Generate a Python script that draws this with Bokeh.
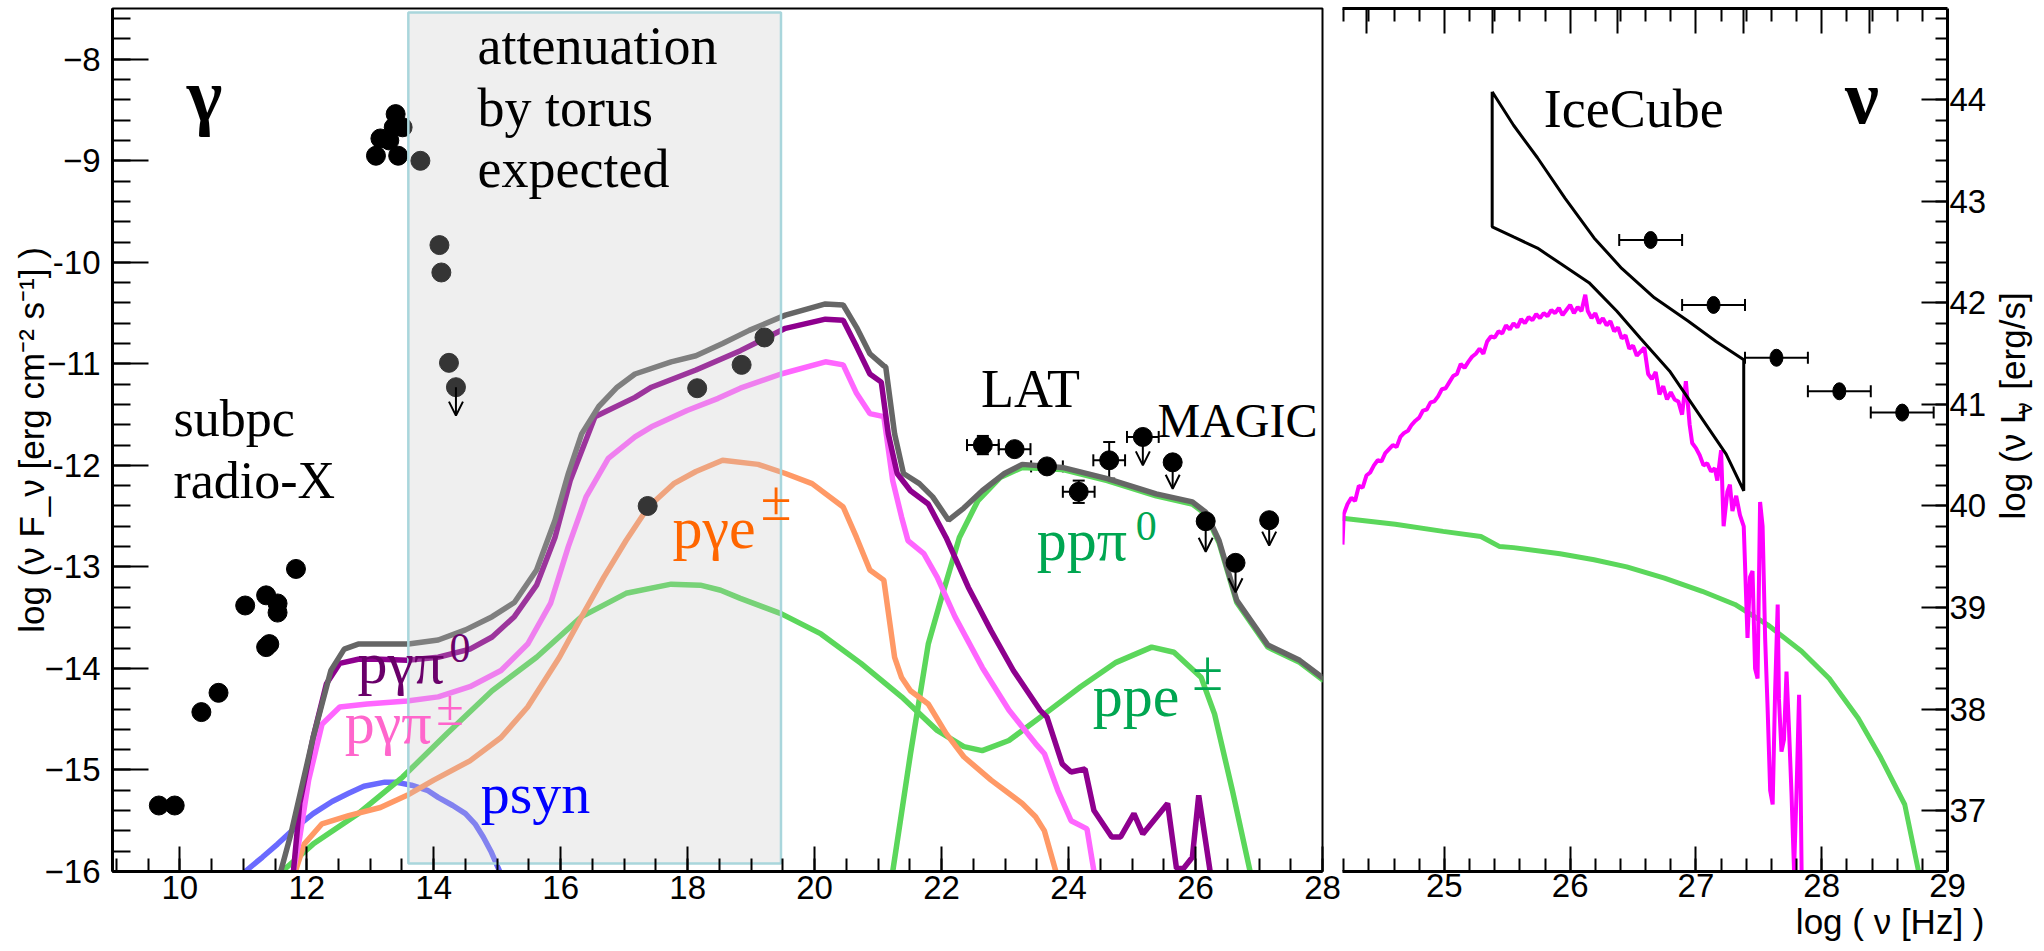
import math
from bokeh.plotting import figure
from bokeh.layouts import row
from bokeh.models import (Range1d, LinearAxis, SingleIntervalTicker, FixedTicker, Title,
                          Label, Arrow, OpenHead, Whisker, TeeHead, ColumnDataSource)
from bokeh.embed import file_html
from bokeh.resources import INLINE

SERIF = "Liberation Serif"
SANS = "Liberation Sans"

# ---------------- gamma-ray panel: model curves (log nu, log nuFnu) ----------------
total_x = [11.59, 11.75, 12.10, 12.38, 12.59, 12.81, 13.16, 13.60, 14.07, 14.50, 14.92, 15.27,
           15.62, 15.91, 16.12, 16.33, 16.60, 16.89, 17.17, 17.74, 18.13, 18.55, 18.97, 19.54,
           20.17, 20.45, 20.66, 20.87, 21.09, 21.12, 21.26, 21.40, 21.65, 21.86, 22.11, 22.35,
           22.64, 22.99, 23.27, 23.90, 24.61, 25.38, 25.95, 26.16, 26.37, 26.65, 27.14, 27.64, 28.02]
total_y = [-16.0, -15.63, -14.68, -14.02, -13.81, -13.76, -13.76, -13.76, -13.72, -13.62, -13.49, -13.35,
           -13.03, -12.54, -12.08, -11.69, -11.42, -11.23, -11.10, -10.98, -10.92, -10.80, -10.67, -10.52,
           -10.41, -10.42, -10.64, -10.90, -11.02, -11.03, -11.69, -12.08, -12.18, -12.31, -12.54, -12.42,
           -12.25, -12.08, -11.99, -12.02, -12.13, -12.28, -12.36, -12.46, -12.74, -13.33, -13.77, -13.92, -14.10]

pgpi0_x = [11.79, 11.89, 12.10, 12.31, 12.52, 12.81, 13.16, 13.58, 14.07, 14.57, 14.92, 15.27,
           15.62, 15.91, 16.15, 16.54, 17.17, 17.43, 18.13, 18.83, 19.54, 20.17, 20.45, 20.66,
           20.87, 21.05, 21.16, 21.30, 21.51, 21.79, 22.07, 22.42, 22.78, 23.13, 23.55, 23.66,
           23.90, 24.04, 24.26, 24.40, 24.68, 24.82, 25.03, 25.17, 25.56, 25.70, 25.81, 25.95, 26.05, 26.23]
pgpi0_y = [-16.0, -15.33, -14.68, -14.15, -13.95, -13.91, -13.91, -13.92, -13.89, -13.81, -13.69, -13.49,
           -13.18, -12.71, -12.15, -11.52, -11.33, -11.23, -11.06, -10.87, -10.65, -10.56, -10.57, -10.83,
           -11.10, -11.18, -11.69, -12.08, -12.25, -12.38, -12.71, -13.20, -13.63, -14.02, -14.41, -14.48,
           -14.94, -15.02, -14.99, -15.40, -15.66, -15.66, -15.43, -15.63, -15.33, -15.97, -15.97, -15.86, -15.25, -16.0]

pgpipm_x = [11.79, 11.89, 12.03, 12.24, 12.52, 12.95, 13.58, 14.07, 14.57, 15.06, 15.48, 15.84,
            16.12, 16.40, 16.75, 17.17, 17.43, 17.99, 18.48, 18.83, 19.47, 20.17, 20.45, 20.66,
            20.87, 21.09, 21.23, 21.37, 21.47, 21.72, 21.93, 22.21, 22.64, 23.06, 23.48, 23.62,
            23.83, 24.04, 24.29, 24.40]
pgpipm_y = [-16.0, -15.66, -15.10, -14.55, -14.38, -14.35, -14.32, -14.28, -14.18, -14.02, -13.76, -13.36,
            -12.80, -12.31, -11.93, -11.72, -11.62, -11.46, -11.34, -11.24, -11.10, -10.98, -11.01, -11.29,
            -11.49, -11.52, -12.15, -12.51, -12.74, -12.87, -13.10, -13.49, -13.99, -14.41, -14.74, -14.84,
            -15.20, -15.50, -15.58, -16.0]

pge_x = [11.82, 11.96, 12.24, 12.66, 13.16, 13.58, 14.00, 14.57, 15.06, 15.48, 15.98, 16.33,
         16.68, 17.03, 17.38, 17.78, 18.13, 18.55, 19.11, 19.54, 19.96, 20.45, 20.66, 20.87,
         21.09, 21.26, 21.37, 21.51, 21.79, 22.07, 22.35, 22.78, 23.27, 23.48, 23.62, 23.80]
pge_y = [-16.0, -15.73, -15.53, -15.45, -15.37, -15.25, -15.10, -14.91, -14.68, -14.38, -13.89, -13.49,
         -13.10, -12.74, -12.41, -12.18, -12.06, -11.95, -11.99, -12.08, -12.18, -12.41, -12.71, -13.03,
         -13.13, -13.89, -14.09, -14.22, -14.35, -14.64, -14.87, -15.10, -15.33, -15.46, -15.60, -16.0]

ppe_x = [11.61, 12.10, 12.81, 13.51, 14.21, 14.92, 15.62, 16.33, 17.03, 17.74, 18.20, 18.52,
         18.83, 19.47, 20.10, 20.73, 21.37, 21.93, 22.35, 22.64, 23.06, 23.62, 24.19, 24.75,
         25.31, 25.66, 26.09, 26.30, 26.58, 26.86]
ppe_y = [-16.0, -15.73, -15.43, -15.07, -14.64, -14.22, -13.89, -13.49, -13.26, -13.17, -13.18, -13.23,
         -13.31, -13.46, -13.66, -13.95, -14.28, -14.61, -14.77, -14.81, -14.71, -14.45, -14.18, -13.94,
         -13.79, -13.84, -14.09, -14.45, -15.20, -16.0]

pppi0_x = [21.23, 21.51, 21.79, 22.00, 22.28, 22.57, 22.92, 23.27, 23.90, 24.61, 25.38, 25.95,
           26.16, 26.37, 26.65, 27.14, 27.64, 28.02]
pppi0_y = [-16.0, -14.84, -13.76, -13.30, -12.71, -12.35, -12.12, -12.02, -12.04, -12.15, -12.30, -12.38,
           -12.48, -12.76, -13.35, -13.79, -13.94, -14.12]

psyn_x = [11.03, 11.30, 11.54, 11.80, 12.10, 12.40, 12.66, 12.90, 13.23, 13.40, 13.65, 13.90,
          14.07, 14.30, 14.50, 14.65, 14.78, 14.90, 15.04]
psyn_y = [-16.0, -15.86, -15.73, -15.58, -15.43, -15.31, -15.23, -15.16, -15.12, -15.12, -15.15, -15.20,
          -15.27, -15.35, -15.43, -15.53, -15.66, -15.80, -16.0]

# ---------------- gamma-ray panel: measurements ----------------
radio_x = [9.67, 9.92, 10.34, 10.61, 11.03, 11.36, 11.54, 11.54, 11.36, 11.41, 11.83]
radio_y = [-15.35, -15.35, -14.43, -14.24, -13.38, -13.28, -13.36, -13.45, -13.79, -13.76, -13.02]

xray_x = [13.09, 13.16, 13.30, 13.37, 13.40, 13.44, 13.51, 13.79, 14.09, 14.12, 14.24]
xray_y = [-8.95, -8.78, -8.80, -8.67, -8.54, -8.95, -8.67, -9.00, -9.83, -10.10, -10.99]

hardx_x = [17.37, 18.15, 18.85, 19.21]
hardx_y = [-12.40, -11.24, -11.01, -10.74]

lat_x = [22.65, 23.15, 23.66, 24.16, 24.64]
lat_y = [-11.80, -11.84, -12.01, -12.26, -11.95]
lat_xerr = [0.25, 0.25, 0.25, 0.25, 0.25]
lat_yerr = [0.09, 0.05, 0.05, 0.11, 0.18]

# upper limits: point, arrow tip, half bin width
ul_x = [14.35, 25.17, 25.64, 26.16, 26.63, 27.16]
ul_y = [-11.23, -11.72, -11.97, -12.55, -12.96, -12.54]
ul_tip = [-11.51, -12.00, -12.23, -12.85, -13.25, -12.79]
ul_xerr = [0.0, 0.25, 0.0, 0.0, 0.0, 0.0]

# torus attenuation band
band_x = [13.60, 19.47]
band_y = [-15.92, -7.54]

# ---------------- neutrino panel ----------------
icecube_x = [25.38, 25.55, 25.74, 25.96, 26.19, 26.41, 26.67, 26.94, 27.16, 27.38,
             27.38, 27.24, 27.01, 26.79, 26.56, 26.37, 26.15, 25.92, 25.74, 25.55, 25.38, 25.38]
icecube_y = [44.08, 43.75, 43.43, 43.03, 42.64, 42.34, 42.05, 41.82, 41.62, 41.44,
             40.15, 40.51, 40.93, 41.33, 41.65, 41.92, 42.20, 42.39, 42.54, 42.65, 42.75, 44.08]

nu_x = [26.64, 27.14, 27.64, 28.14, 28.64]
nu_y = [42.62, 41.98, 41.46, 41.13, 40.92]
nu_xerr = [0.25, 0.25, 0.25, 0.25, 0.25]

nu_pp_x = [24.19, 24.61, 24.99, 25.29, 25.44, 25.55, 25.92, 26.19, 26.45, 26.75, 27.05, 27.31,
           27.57, 27.84, 28.06, 28.29, 28.47, 28.66, 28.77]
nu_pp_y = [39.88, 39.82, 39.75, 39.70, 39.60, 39.59, 39.53, 39.47, 39.40, 39.29, 39.16, 39.03,
           38.83, 38.57, 38.30, 37.91, 37.52, 37.06, 36.40]

nu_pg_x = [24.19, 24.20, 24.23, 24.26, 24.29, 24.32, 24.35, 24.38, 24.41, 24.44, 24.47, 24.50,
           24.53, 24.56, 24.59, 24.62, 24.65, 24.68, 24.71, 24.74, 24.77, 24.80, 24.83, 24.86,
           24.89, 24.92, 24.95, 24.98, 25.01, 25.04, 25.07, 25.10, 25.13, 25.16, 25.19, 25.22,
           25.25, 25.28, 25.31, 25.34, 25.37, 25.40, 25.43, 25.46, 25.49, 25.52, 25.55, 25.58,
           25.61, 25.64, 25.67, 25.70, 25.73, 25.76, 25.79, 25.82, 25.85, 25.88, 25.91, 25.94,
           25.97, 26.00, 26.03, 26.06, 26.09, 26.12, 26.14, 26.17, 26.20, 26.23, 26.26, 26.29,
           26.32, 26.35, 26.38, 26.41, 26.44, 26.47, 26.50, 26.53, 26.56, 26.59, 26.62, 26.65,
           26.68, 26.71, 26.74, 26.77, 26.80, 26.83, 26.86, 26.89, 26.92, 26.95, 26.97, 27.00,
           27.03, 27.06, 27.09, 27.12, 27.15, 27.17, 27.20, 27.22, 27.25, 27.27, 27.29, 27.32,
           27.35, 27.38, 27.41, 27.43, 27.45, 27.47, 27.49, 27.51, 27.53, 27.55, 27.57, 27.59,
           27.61, 27.63, 27.65, 27.66, 27.68, 27.70, 27.72, 27.74, 27.76, 27.78, 27.80, 27.82,
           27.83, 27.84]
nu_pg_y = [39.62, 39.92, 40.02, 40.08, 40.05, 40.20, 40.18, 40.30, 40.33, 40.40, 40.45, 40.44,
           40.52, 40.56, 40.60, 40.58, 40.68, 40.72, 40.74, 40.80, 40.84, 40.87, 40.94, 40.95,
           41.02, 41.03, 41.08, 41.15, 41.16, 41.22, 41.28, 41.30, 41.40, 41.36, 41.42, 41.47,
           41.50, 41.55, 41.50, 41.62, 41.67, 41.66, 41.72, 41.70, 41.78, 41.74, 41.80, 41.76,
           41.84, 41.80, 41.86, 41.83, 41.89, 41.85, 41.90, 41.87, 41.93, 41.90, 41.95, 41.88,
           41.93, 41.98, 41.90, 41.96, 41.92, 42.08, 41.92, 41.85, 41.90, 41.80, 41.85, 41.78,
           41.82, 41.72, 41.76, 41.65, 41.68, 41.55, 41.58, 41.48, 41.52, 41.56, 41.30, 41.25,
           41.32, 41.10, 41.18, 41.05, 41.12, 41.05, 41.03, 40.90, 41.23, 40.80, 40.62, 40.57,
           40.50, 40.40, 40.42, 40.34, 40.37, 40.25, 40.55, 39.80, 40.14, 40.21, 39.95, 40.10,
           39.91, 39.80, 38.70, 39.30, 39.36, 38.40, 38.30, 40.04, 39.80, 38.70, 38.00, 37.20,
           37.06, 38.20, 39.03, 38.10, 37.58, 37.70, 38.37, 37.80, 37.16, 36.40, 37.20, 38.14,
           37.50, 36.40]

# ---------------- tick labels ----------------
gamma_y_ticks = [-16, -15, -14, -13, -12, -11, -10, -9, -8]
gamma_y_labels = ["\u221216", "\u221215", "\u221214", "-13", "-12", "\u221211", "-10", "\u22129", "\u22128"]
top_major = [24.38, 25.0, 25.38, 26.0, 26.38, 27.0, 27.38, 28.0, 28.38]
top_minor = [24.2, 24.4, 24.6, 24.8, 25.2, 25.4, 25.6, 25.8, 26.2, 26.4, 26.6, 26.8,
             27.2, 27.4, 27.6, 27.8, 28.2, 28.4, 28.6, 28.8]

GRAY = "#666666"
PURPLE = "#8e008e"
PINK = "#ff66ff"
ORANGE = "#ff9966"
GREEN = "#5bd75b"
BLUE = "#6a6aff"
MAGENTA = "#ff00ff"

PX_PER_DEX = 101.5     # vertical scale of both panels, pixels per unit
BASELINE_LIFT = 0.35   # label text sits this many ems low in the svg output


def style_axis(ax, major_in, minor_in, size, standoff):
    ax.major_tick_in = major_in
    ax.major_tick_out = 0
    ax.minor_tick_in = minor_in
    ax.minor_tick_out = 0
    ax.axis_line_width = 3
    ax.axis_line_color = "black"
    ax.major_tick_line_color = "black"
    ax.minor_tick_line_color = "black"
    ax.major_tick_line_width = 2
    ax.minor_tick_line_width = 2
    ax.major_label_text_font = SANS
    ax.major_label_text_font_size = size
    ax.major_label_text_color = "black"
    ax.major_label_standoff = standoff
    ax.axis_label_text_font = SANS
    ax.axis_label_text_font_style = "normal"
    ax.axis_label_text_color = "black"


def put(p, x, y, text, size, color="black", style="normal", align="left"):
    lift = BASELINE_LIFT * size / PX_PER_DEX
    p.add_layout(Label(x=x, y=y + lift, text=text, text_font=SERIF, text_font_size=f"{size}px",
                       text_color=color, text_font_style=style, text_align=align,
                       text_baseline="alphabetic"))


# =============== left panel: gamma rays ===============
p1 = figure(width=1342, height=951, x_range=Range1d(8.94, 28.0), y_range=Range1d(-16.0, -7.5),
            output_backend="svg", toolbar_location=None,
            min_border_left=112, min_border_right=20, min_border_top=8, min_border_bottom=80)
p1.grid.visible = False
p1.outline_line_color = "black"
p1.outline_line_width = 2
p1.background_fill_color = "white"
p1.border_fill_color = "white"

xa = p1.xaxis[0]
xa.ticker = SingleIntervalTicker(interval=2, num_minor_ticks=4)
style_axis(xa, 25, 13, "33px", 4)
ya = p1.yaxis[0]
ya.ticker = SingleIntervalTicker(interval=1, num_minor_ticks=5)
style_axis(ya, 36, 18, "33px", 12)
ya.major_label_overrides = dict(zip(gamma_y_ticks, gamma_y_labels))
ya.axis_label = "log (\u03bd F_\u03bd [erg cm\u207b\u00b2 s\u207b\u00b9] )"
ya.axis_label_text_font_size = "35px"
ya.axis_label_standoff = -9

W = 5.5
p1.line(psyn_x, psyn_y, line_color=BLUE, line_width=W)
p1.line(ppe_x, ppe_y, line_color=GREEN, line_width=W)
p1.line(pppi0_x, pppi0_y, line_color=GREEN, line_width=W)
p1.line(pge_x, pge_y, line_color=ORANGE, line_width=W)
p1.line(pgpipm_x, pgpipm_y, line_color=PINK, line_width=W)
p1.line(pgpi0_x, pgpi0_y, line_color=PURPLE, line_width=W)
p1.line(total_x, total_y, line_color=GRAY, line_width=W)

# measurements
p1.scatter(radio_x, radio_y, size=19, color="black")
p1.scatter(xray_x, xray_y, size=19, color="black")
p1.scatter(hardx_x, hardx_y, size=19, color="black")

lat_src = ColumnDataSource(dict(
    x=lat_x, y=lat_y,
    xl=[a - b for a, b in zip(lat_x, lat_xerr)], xu=[a + b for a, b in zip(lat_x, lat_xerr)],
    yl=[a - b for a, b in zip(lat_y, lat_yerr)], yu=[a + b for a, b in zip(lat_y, lat_yerr)]))
p1.add_layout(Whisker(source=lat_src, base="y", lower="xl", upper="xu", dimension="width",
                      line_width=2, line_color="black",
                      upper_head=TeeHead(size=12, line_width=2), lower_head=TeeHead(size=12, line_width=2)))
p1.add_layout(Whisker(source=lat_src, base="x", lower="yl", upper="yu", dimension="height",
                      line_width=2, line_color="black",
                      upper_head=TeeHead(size=12, line_width=2), lower_head=TeeHead(size=12, line_width=2)))
p1.scatter("x", "y", source=lat_src, size=19, color="black")

ul_src = ColumnDataSource(dict(x=ul_x, y=ul_y, tip=ul_tip))
p1.add_layout(Arrow(source=ul_src, x_start="x", y_start="y", x_end="x", y_end="tip",
                    line_width=2, line_color="black",
                    end=OpenHead(size=14, line_width=2, line_color="black")))
ul_bin_src = ColumnDataSource(dict(y=[ul_y[1]], xl=[ul_x[1] - ul_xerr[1]], xu=[ul_x[1] + ul_xerr[1]]))
p1.add_layout(Whisker(source=ul_bin_src, base="y", lower="xl", upper="xu", dimension="width",
                      line_width=2, line_color="black",
                      upper_head=TeeHead(size=12, line_width=2), lower_head=TeeHead(size=12, line_width=2)))
p1.scatter("x", "y", source=ul_src, size=19, color="black")

# translucent band where torus absorption is expected
p1.quad(left=[band_x[0]], right=[band_x[1]], bottom=[band_y[0]], top=[band_y[1]],
        fill_color="#c4c4c4", fill_alpha=0.27, line_color="#a9d6dc", line_width=2.5)

# annotations
put(p1, 14.69, -8.06, "attenuation", 54)
put(p1, 14.69, -8.67, "by torus", 54)
put(p1, 14.69, -9.27, "expected", 54)
put(p1, 10.39, -8.61, "\u03b3", 76, style="bold", align="center")
put(p1, 9.90, -11.72, "subpc", 52)
put(p1, 9.90, -12.33, "radio-X", 52)
put(p1, 12.80, -14.15, "p\u03b3\u03c0", 60, color="#6a006a")
put(p1, 14.25, -13.94, "0", 42, color="#6a006a")
put(p1, 12.60, -14.74, "p\u03b3\u03c0", 60, color="#ff66cc")
put(p1, 14.04, -14.56, "\u00b1", 50, color="#ff66cc")
put(p1, 14.74, -15.43, "psyn", 58, color="#0000ff")
put(p1, 17.76, -12.82, "p\u03b3e", 60, color="#ff6600")
put(p1, 19.15, -12.54, "\u00b1", 56, color="#ff6600")
put(p1, 22.62, -11.43, "LAT", 54)
put(p1, 25.40, -11.72, "MAGIC", 48)
put(p1, 23.50, -12.94, "pp\u03c0", 60, color="#00a651")
put(p1, 25.06, -12.74, "0", 42, color="#00a651")
put(p1, 24.38, -14.48, "ppe", 60, color="#00a651")
put(p1, 25.95, -14.22, "\u00b1", 56, color="#00a651")

# =============== right panel: neutrinos ===============
p2 = figure(width=647, height=951, x_range=Range1d(24.19, 29.0), y_range=Range1d(36.4, 44.9),
            y_axis_location="right", output_backend="svg", toolbar_location=None,
            min_border_left=0, min_border_right=39, min_border_top=8, min_border_bottom=80)
p2.grid.visible = False
p2.outline_line_color = None
p2.background_fill_color = "white"
p2.border_fill_color = "white"

xb = p2.xaxis[0]
xb.ticker = SingleIntervalTicker(interval=1, num_minor_ticks=5)
style_axis(xb, 25, 13, "33px", 2)
yb = p2.yaxis[0]
yb.ticker = SingleIntervalTicker(interval=1, num_minor_ticks=5)
style_axis(yb, 26, 12, "33px", 2)

top_axis = LinearAxis(ticker=FixedTicker(ticks=top_major, minor_ticks=top_minor))
style_axis(top_axis, 25, 13, "1px", 0)
top_axis.major_label_text_alpha = 0
p2.add_layout(top_axis, "above")

p2.add_layout(Title(text="log ( \u03bd [Hz] )", align="right", offset=-37, standoff=0,
                    text_font=SANS, text_font_size="35px", text_font_style="normal",
                    text_color="black"), "below")

p2.line(nu_pp_x, nu_pp_y, line_color=GREEN, line_width=5)
p2.line(nu_pg_x, nu_pg_y, line_color=MAGENTA, line_width=4)
p2.line(icecube_x, icecube_y, line_color="black", line_width=3)

nu_src = ColumnDataSource(dict(x=nu_x, y=nu_y,
                               xl=[a - b for a, b in zip(nu_x, nu_xerr)],
                               xu=[a + b for a, b in zip(nu_x, nu_xerr)]))
p2.add_layout(Whisker(source=nu_src, base="y", lower="xl", upper="xu", dimension="width",
                      line_width=2, line_color="black",
                      upper_head=TeeHead(size=12, line_width=2), lower_head=TeeHead(size=12, line_width=2)))
p2.ellipse("x", "y", source=nu_src, width=13, height=17, width_units="screen",
           height_units="screen", color="black")

put(p2, 25.79, 43.72, "IceCube", 54)
put(p2, 28.32, 43.77, "\u03bd", 76, style="bold", align="center")

# =============== strip holding the neutrino luminosity title ===============
# pixel coordinates: x across the strip, y downward from the top of the page
p3 = figure(width=55, height=951, x_range=Range1d(1989, 2044), y_range=Range1d(951, 0),
            x_axis_location=None, y_axis_location=None, output_backend="svg",
            toolbar_location=None, min_border=0)
p3.grid.visible = False
p3.outline_line_color = None
p3.background_fill_color = "white"
p3.border_fill_color = "white"


def put_vertical(x_base, y_start, text, size):
    # rotated text reading upward; the baseline sits at x_base
    p3.add_layout(Label(x=x_base - BASELINE_LIFT * size, y=y_start, text=text, angle=math.pi / 2,
                        text_font=SANS, text_font_size=f"{size}px", text_color="black",
                        text_align="left", text_baseline="alphabetic"))


put_vertical(2024, 563, "log (\u03bd L", 35)
put_vertical(2031, 447, "\u03bd", 24)
put_vertical(2024, 420, "[erg/s]", 35)

layout = row(p1, p2, p3)
open("out.html", "w").write(file_html(layout, INLINE))
